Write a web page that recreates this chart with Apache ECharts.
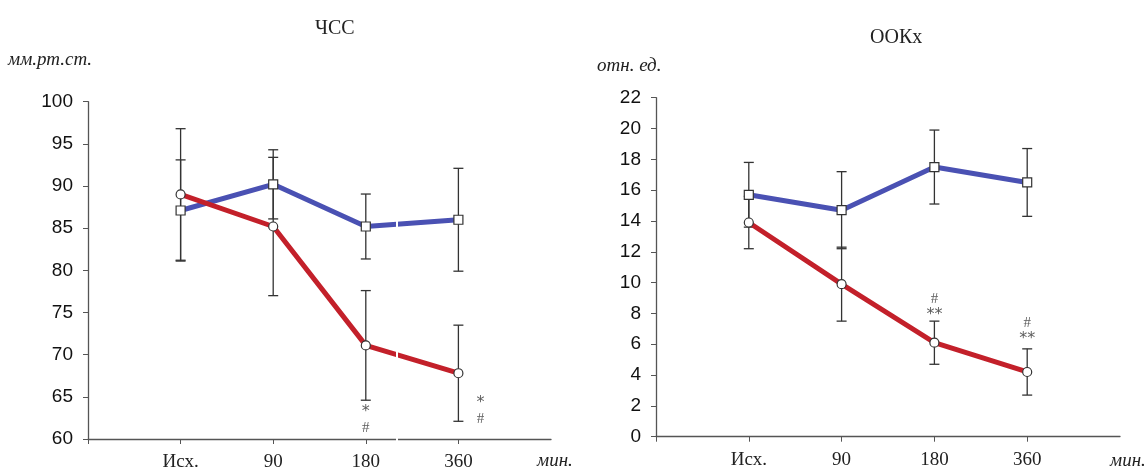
<!DOCTYPE html>
<html>
<head>
<meta charset="utf-8">
<script src="https://cdn.jsdelivr.net/npm/echarts@6/dist/echarts.min.js"></script>
<style>
  html, body { margin: 0; padding: 0; background: #fff; }
  #chart { width: 1148px; height: 472px; }
</style>
</head>
<body>
<div id="chart"></div>
<script>
// categories along the time axis (positions 1..4)
var categories = ['Исх.', '90', '180', '360'];

// ЧСС, мм.рт.ст.
var hrBlue = [87.1, 90.2, 85.2, 86.0];
var hrBlueErr = [6.0, 4.1, 3.85, 6.1];
var hrRed = [89.0, 85.2, 71.1, 67.8];
var hrRedErr = [7.8, 8.2, 6.5, 5.7];

// ООКх, отн. ед.
var cvBlue = [15.7, 14.7, 17.5, 16.5];
var cvBlueErr = [2.1, 2.5, 2.4, 2.2];
var cvRed = [13.9, 9.9, 6.1, 4.2];
var cvRedErr = [1.7, 2.4, 1.4, 1.5];

// significance marks: [position, value, upper, lower]
var hrMarks = [[3, 62.3, '*', '#'], [4.24, 63.3, '*', '#']];
var cvMarks = [[3, 8.4, '#', '**'], [4, 6.85, '#', '**']];

var blue = '#4a51b3';
var red = '#c3202a';
var ink = '#333';

function pts(vals) {
    return vals.map(function (v, i) { return [i + 1, v]; });
}
function bars(vals, errs) {
    return vals.map(function (v, i) { return [i + 1, v - errs[i], v + errs[i]]; });
}

function errorBar(params, api) {
    var x = api.value(0);
    var top = api.coord([x, api.value(2)]);
    var bot = api.coord([x, api.value(1)]);
    var w = 5;
    var st = { stroke: ink, lineWidth: 1.3 };
    return {
        type: 'group',
        children: [
            { type: 'line', shape: { x1: top[0], y1: top[1], x2: bot[0], y2: bot[1] }, style: st },
            { type: 'line', shape: { x1: top[0] - w, y1: top[1], x2: top[0] + w, y2: top[1] }, style: st },
            { type: 'line', shape: { x1: bot[0] - w, y1: bot[1], x2: bot[0] + w, y2: bot[1] }, style: st }
        ]
    };
}

function xAxisFor(idx) {
    return {
        type: 'value', gridIndex: idx, min: 0, max: 5, interval: 1,
        axisLine: { lineStyle: { color: '#555', width: 1.3 } },
        axisTick: { customValues: [0, 1, 2, 3, 4], length: 5, lineStyle: { color: '#555' } },
        axisLabel: {
            customValues: [1, 2, 3, 4],
            formatter: function (v) { return categories[v - 1]; },
            fontFamily: 'Liberation Serif', fontSize: 19, color: '#222', margin: 14
        },
        splitLine: { show: false }
    };
}
function yAxisFor(idx, min, max, step) {
    return {
        type: 'value', gridIndex: idx, min: min, max: max, interval: step,
        axisLine: { show: true, lineStyle: { color: '#555', width: 1.3 } },
        axisTick: { show: true, length: 5, lineStyle: { color: '#555' } },
        axisLabel: { fontFamily: 'Liberation Sans', fontSize: 19, color: '#111', margin: 15 },
        splitLine: { show: false }
    };
}

function lineSeries(idx, vals, color, symbol) {
    return {
        type: 'line', xAxisIndex: idx, yAxisIndex: idx, data: pts(vals), z: 3,
        lineStyle: { color: color, width: 5 },
        itemStyle: { color: '#fff', borderColor: ink, borderWidth: 1.2 },
        symbol: symbol, symbolSize: 9,
        showSymbol: true, animation: false
    };
}
function barSeries(idx, vals, errs) {
    return {
        type: 'custom', xAxisIndex: idx, yAxisIndex: idx, z: 2,
        renderItem: errorBar, data: bars(vals, errs), animation: false
    };
}
function markSeries(idx, marks) {
    return {
        type: 'scatter', xAxisIndex: idx, yAxisIndex: idx, symbolSize: 0, z: 4,
        data: marks.map(function (m) { return { value: [m[0], m[1]], up: m[2], low: m[3] }; }),
        label: {
            show: true, position: 'inside',
            formatter: function (p) {
                var s = function (t) { return t.charAt(0) === '*' ? '{star|' + t + '}' : '{hash|' + t + '}'; };
                return s(p.data.up) + '\n' + s(p.data.low);
            },
            rich: {
                star: { fontFamily: 'DejaVu Sans', fontSize: 16, lineHeight: 16, color: ink },
                hash: { fontFamily: 'Liberation Serif', fontSize: 15, lineHeight: 16, color: ink }
            }
        },
        animation: false
    };
}

var myChart = echarts.init(document.getElementById('chart'), null, { renderer: 'canvas' });

var option = {
    animation: false,
    grid: [
        { left: 88, right: 597, top: 101.7, bottom: 33 },
        { left: 656, right: 28, top: 97.7, bottom: 35.3 }
    ],
    xAxis: [xAxisFor(0), xAxisFor(1)],
    yAxis: [yAxisFor(0, 60, 100, 5), yAxisFor(1, 0, 22, 2)],
    series: [
        barSeries(0, hrBlue, hrBlueErr),
        barSeries(0, hrRed, hrRedErr),
        lineSeries(0, hrBlue, blue, 'rect'),
        lineSeries(0, hrRed, red, 'circle'),
        markSeries(0, hrMarks),
        barSeries(1, cvBlue, cvBlueErr),
        barSeries(1, cvRed, cvRedErr),
        lineSeries(1, cvBlue, blue, 'rect'),
        lineSeries(1, cvRed, red, 'circle'),
        markSeries(1, cvMarks)
    ],
    graphic: [
        { type: 'text', left: 315, top: 19, style: { text: 'ЧСС', font: '20px "Liberation Serif"', fill: '#222' } },
        { type: 'text', left: 870, top: 28, style: { text: 'ООКх', font: '20px "Liberation Serif"', fill: '#222' } },
        { type: 'text', left: 8, top: 50, style: { text: 'мм.рт.ст.', font: 'italic 19px "Liberation Serif"', fill: '#222' } },
        { type: 'text', left: 597, top: 56, style: { text: 'отн. ед.', font: 'italic 19px "Liberation Serif"', fill: '#222' } },
        { type: 'text', left: 537, top: 451, style: { text: 'мин.', font: 'italic 19px "Liberation Serif"', fill: '#222' } },
        { type: 'text', left: 1110, top: 451, style: { text: 'мин.', font: 'italic 19px "Liberation Serif"', fill: '#222' } },
        // thin white seam across the left panel, as in the source figure
        { type: 'rect', left: 396, top: 210, z: 100, shape: { width: 2, height: 235 }, style: { fill: '#fff' } }
    ]
};

if (option && typeof option === 'object') {
    myChart.setOption(option);
}
</script>
</body>
</html>
